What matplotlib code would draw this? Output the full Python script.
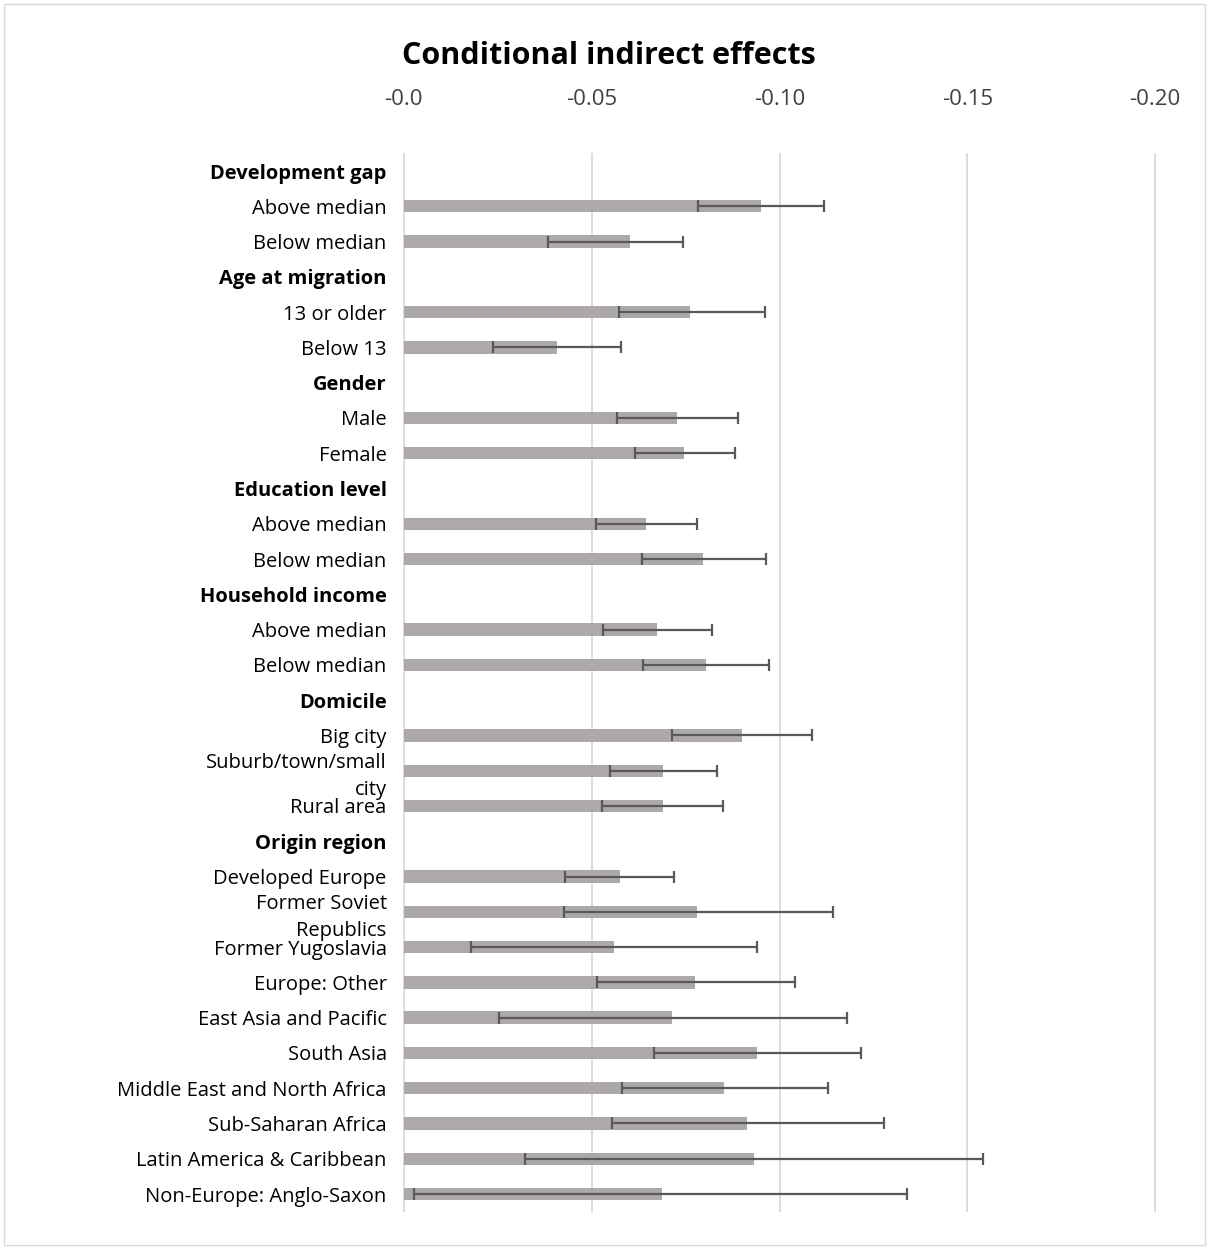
import matplotlib.pyplot as plt
import numpy as np

# rows top to bottom; headers have no value
labels = ["Development gap", "Above median", "Below median",
          "Age at migration", "13 or older", "Below 13",
          "Gender", "Male", "Female",
          "Education level", "Above median", "Below median",
          "Household income", "Above median", "Below median",
          "Domicile", "Big city", "Suburb/town/small\ncity", "Rural area",
          "Origin region", "Developed Europe", "Former Soviet\nRepublics",
          "Former Yugoslavia", "Europe: Other", "East Asia and Pacific",
          "South Asia", "Middle East and North Africa", "Sub-Saharan Africa",
          "Latin America & Caribbean", "Non-Europe: Anglo-Saxon"]
headers = ["Development gap", "Age at migration", "Gender", "Education level",
           "Household income", "Domicile", "Origin region"]

effect = [None, -0.0951, -0.0601,
          None, -0.0763, -0.0408,
          None, -0.0728, -0.0747,
          None, -0.0644, -0.0797,
          None, -0.0675, -0.0805,
          None, -0.0901, -0.0691, -0.0689,
          None, -0.0575, -0.0781, -0.0559, -0.0776, -0.0715,
          -0.0940, -0.0853, -0.0914, -0.0932, -0.0686]
ci_low = [None, -0.0784, -0.0384,
          None, -0.0572, -0.0238,
          None, -0.0567, -0.0615,
          None, -0.0511, -0.0633,
          None, -0.0530, -0.0636,
          None, -0.0715, -0.0548, -0.0527,
          None, -0.0429, -0.0426, -0.0180, -0.0514, -0.0254,
          -0.0665, -0.0580, -0.0554, -0.0323, -0.0026]
ci_high = [None, -0.1118, -0.0744,
           None, -0.0962, -0.0577,
           None, -0.0890, -0.0882,
           None, -0.0781, -0.0964,
           None, -0.0821, -0.0972,
           None, -0.1086, -0.0834, -0.0850,
           None, -0.0718, -0.1142, -0.0940, -0.1041, -0.1179,
           -0.1216, -0.1128, -0.1277, -0.1542, -0.1340]
xticks = [0, -0.05, -0.10, -0.15, -0.20]
xtick_labels = ["-0.0", "-0.05", "-0.10", "-0.15", "-0.20"]

plt.rcParams['font.family'] = ['Open Sans', 'DejaVu Sans']

fig = plt.figure(figsize=(12.09, 12.49), dpi=100)
ax = fig.add_axes([0.3325, 0.0299, 0.6245, 0.8473])

y = np.arange(len(labels))
idx = [i for i, v in enumerate(effect) if v is not None]
vals = np.array([effect[i] for i in idx])
lo = np.array([ci_low[i] for i in idx])
hi = np.array([ci_high[i] for i in idx])
yy = y[idx]

ax.barh(yy, vals, height=0.35, color='#ADA9A8', zorder=2)
mid = (lo + hi) / 2
ax.errorbar(mid, yy, xerr=np.abs(hi - lo) / 2, fmt='none', ecolor='#595959',
            elinewidth=1.6, capsize=4.5, capthick=1.6, zorder=3)

ax.set_xlim(0.0005, -0.2005)
ax.set_ylim(len(labels) - 0.5, -0.5)
ax.set_xticks(xticks)
ax.set_xticklabels(xtick_labels, fontsize=16, color='#404040')
ax.xaxis.tick_top()
ax.tick_params(axis='x', length=0, pad=31)
ax.set_yticks(y)
ax.set_yticklabels(labels, fontsize=14.5, linespacing=1.45)
for t, lab in zip(ax.get_yticklabels(), labels):
    if lab in headers:
        t.set_fontweight('bold')
ax.tick_params(axis='y', length=0, pad=11)
ax.grid(axis='x', color='#D9D9D9', linewidth=1.3, zorder=0)
ax.set_axisbelow(True)
for s in ax.spines.values():
    s.set_visible(False)

fig.text(0.5038, 0.955, "Conditional indirect effects", ha='center', va='center',
         fontsize=22, fontweight='bold')
fig.patches.append(plt.Rectangle((0.003, 0.003), 0.994, 0.994, transform=fig.transFigure,
                                 fill=False, edgecolor='#D9D9D9', linewidth=1))

fig.savefig('out.png', dpi=100)
